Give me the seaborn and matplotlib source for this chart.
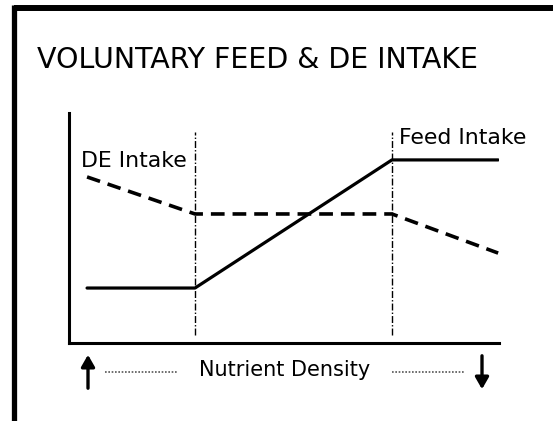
import matplotlib
matplotlib.use("Agg")
import matplotlib.pyplot as plt
from matplotlib.lines import Line2D
import numpy as np
import pandas as pd
import seaborn as sns

# Data (schematic units, 0-100 on both axes)

density_x = [4.2, 29.3, 75.1, 99.8]
feed_intake = [23.9, 23.9, 79.6, 79.6]
de_intake = [72.2, 56.1, 56.1, 39.1]
breakpoints = [29.3, 75.1]

df = pd.DataFrame({'density': density_x, 'feed': feed_intake, 'de': de_intake})

sns.set_style('white')
plt.rcParams['font.family'] = ['DejaVu Sans']
plt.rcParams['text.color'] = 'black'

W, H = 553, 421
fig = plt.figure(figsize=(W / 100, H / 100), dpi=100)
ax = fig.add_axes([69 / W, 1 - 343 / H, 430 / W, 230 / H])

sns.lineplot(x='density', y='feed', data=df, ax=ax, color='black', linewidth=2.3)
sns.lineplot(x='density', y='de', data=df, ax=ax, color='black', linewidth=2.6,
             linestyle=(0, (3.8, 2.2)))
ax.vlines(breakpoints, 3.5, 91.7, colors='black', linewidth=1.0,
          linestyles=[(0, (5, 1.5, 1, 1.5))])

ax.set_xlim(0, 100)
ax.set_ylim(0, 100)
ax.set_xlabel('')
ax.set_ylabel('')
ax.set_xticks([])
ax.set_yticks([])
sns.despine(ax=ax)
for s in ['left', 'bottom']:
    ax.spines[s].set_linewidth(2.2)
    ax.spines[s].set_color('black')

ax.text(2.8, 79.1, 'DE Intake', fontsize=15.8, va='center', ha='left', color='black')
ax.text(76.7, 89.1, 'Feed Intake', fontsize=15.8, va='center', ha='left', color='black')

# Title and bottom annotation (figure pixels)
fig.text(37 / W, 1 - 60 / H, 'VOLUNTARY FEED & DE INTAKE', fontsize=20.5,
         ha='left', va='center', color='black')
fig.text(199 / W, 1 - 370 / H, 'Nutrient Density', fontsize=15,
         ha='left', va='center', color='black')

fig.add_artist(Line2D([105 / W, 178 / W], [1 - 372 / H] * 2, color='#555555',
                      linewidth=1.2, linestyle=(0, (1, 1))))
fig.add_artist(Line2D([392 / W, 465 / W], [1 - 372 / H] * 2, color='#555555',
                      linewidth=1.2, linestyle=(0, (1, 1))))

fig.patches.append(matplotlib.patches.FancyArrowPatch(
    (88 / W, 1 - 391 / H), (88 / W, 1 - 352 / H), transform=fig.transFigure,
    arrowstyle='-|>,head_length=7,head_width=4', color='black', linewidth=2.4,
    mutation_scale=1))
fig.patches.append(matplotlib.patches.FancyArrowPatch(
    (482 / W, 1 - 353 / H), (482 / W, 1 - 392 / H), transform=fig.transFigure,
    arrowstyle='-|>,head_length=7,head_width=4', color='black', linewidth=2.4,
    mutation_scale=1))

# frame (top and left border)
fig.add_artist(Line2D([13.5 / W, 1.0], [1 - 8 / H] * 2, color='black', linewidth=4.3,
                      solid_capstyle='butt'))
fig.add_artist(Line2D([13.5 / W] * 2, [0, 1 - 5 / H], color='black', linewidth=3.8,
                      solid_capstyle='butt'))

fig.savefig('out.png', dpi=100)
